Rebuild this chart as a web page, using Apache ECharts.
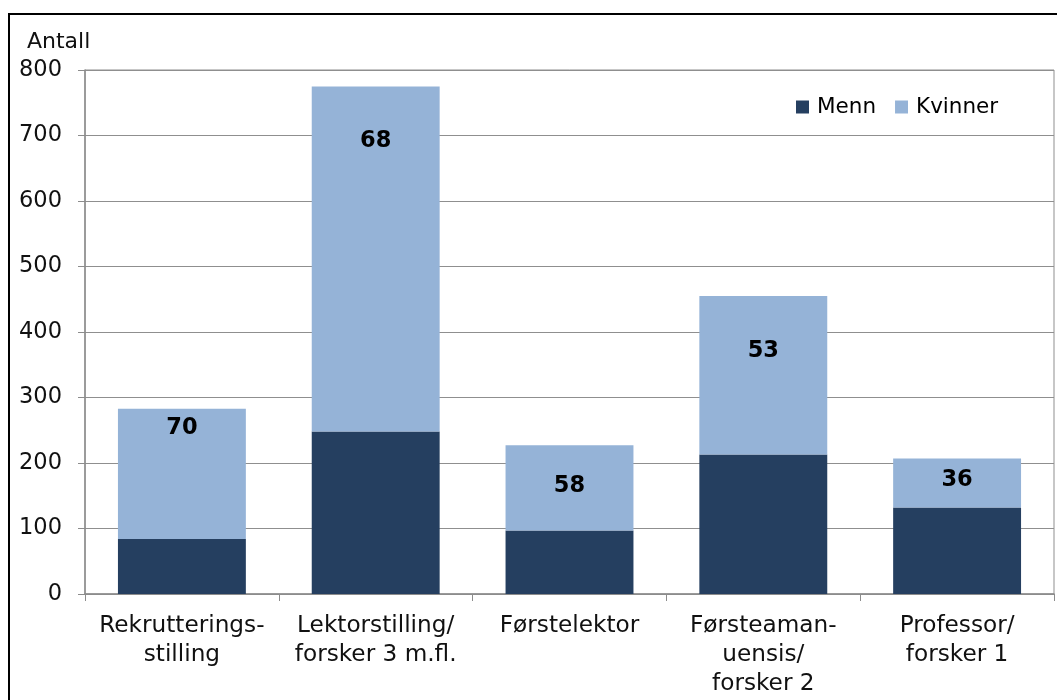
<!DOCTYPE html>
<html lang="no">
<head>
<meta charset="UTF-8" />
<title>Antall etter stilling</title>
<script src="https://cdn.jsdelivr.net/npm/echarts@6/dist/echarts.min.js"></script>
<style>
    html, body { margin: 0; padding: 0; background: #fff; }
    #chart { width: 1057px; height: 700px; }
</style>
</head>
<body>
<div id="chart"></div>
<script>
    const categories = [
        'Rekrutterings-\nstilling',
        'Lektorstilling/\nforsker 3 m.fl.',
        'Førstelektor',
        'Førsteaman-\nuensis/\nforsker 2',
        'Professor/\nforsker 1'
    ];
    const menn = [84, 248, 97, 213, 132];
    const kvinner = [199, 527, 130, 242, 75];
    const andelKvinner = [70, 68, 58, 53, 36];   // prosent kvinner
    const yTicks = [0, 100, 200, 300, 400, 500, 600, 700, 800];

    const FONT = '"DejaVu Sans", Verdana, sans-serif';
    // how far below the top of each bar the percentage sits (as in the original)
    const labelDrop = [8, 43, 29, 44, 10];

    const chart = echarts.init(document.getElementById('chart'));

    chart.setOption({
        animation: false,
        textStyle: { fontFamily: FONT },
        graphic: [{
            type: 'rect',
            shape: { x: 9, y: 14, width: 1200, height: 1000 },
            style: { fill: 'none', stroke: '#000', lineWidth: 2 }
        }],
        grid: {
            left: 85, right: 3, top: 70, bottom: 106,
            show: true, borderColor: '#8f8f8f', borderWidth: 1
        },
        legend: {
            data: ['Menn', 'Kvinner'],
            left: 791, top: 91,
            icon: 'rect', itemWidth: 13, itemHeight: 13, itemGap: 19,
            textStyle: { fontFamily: FONT, fontSize: 21.5, color: '#000', padding: [0, 0, 0, 3] }
        },
        xAxis: {
            type: 'category',
            data: categories,
            axisLine: { lineStyle: { color: '#8c8c8c', width: 1.5 } },
            axisTick: { show: true, length: 7, lineStyle: { color: '#8c8c8c' } },
            axisLabel: {
                fontFamily: FONT, fontSize: 23.2, color: '#111',
                lineHeight: 29, margin: 17, interval: 0
            }
        },
        yAxis: {
            type: 'value',
            min: yTicks[0], max: yTicks[yTicks.length - 1], interval: 100,
            name: 'Antall',
            nameLocation: 'end',
            nameGap: 17,
            nameTextStyle: { fontFamily: FONT, fontSize: 22, color: '#111', align: 'left', padding: [0, 0, 0, -58] },
            axisLine: { show: true, lineStyle: { color: '#8c8c8c', width: 1.5 } },
            axisTick: { show: true, length: 7, lineStyle: { color: '#8c8c8c' } },
            axisLabel: { fontFamily: FONT, fontSize: 22.5, color: '#111', margin: 23 },
            splitLine: { lineStyle: { color: '#8f8f8f', width: 1.2 } }
        },
        series: [
            {
                name: 'Menn', type: 'bar', stack: 'tot',
                barWidth: '66%',
                itemStyle: { color: '#253F60' },
                data: menn
            },
            {
                name: 'Kvinner', type: 'bar', stack: 'tot',
                barWidth: '66%',
                itemStyle: { color: '#95B3D7' },
                data: kvinner.map((v, i) => ({
                    value: v,
                    label: {
                        show: true, position: 'insideTop', distance: labelDrop[i],
                        formatter: String(andelKvinner[i]),
                        fontFamily: FONT, fontSize: 22.5, fontWeight: 'bold', color: '#000'
                    }
                }))
            }
        ]
    });
</script>
</body>
</html>
